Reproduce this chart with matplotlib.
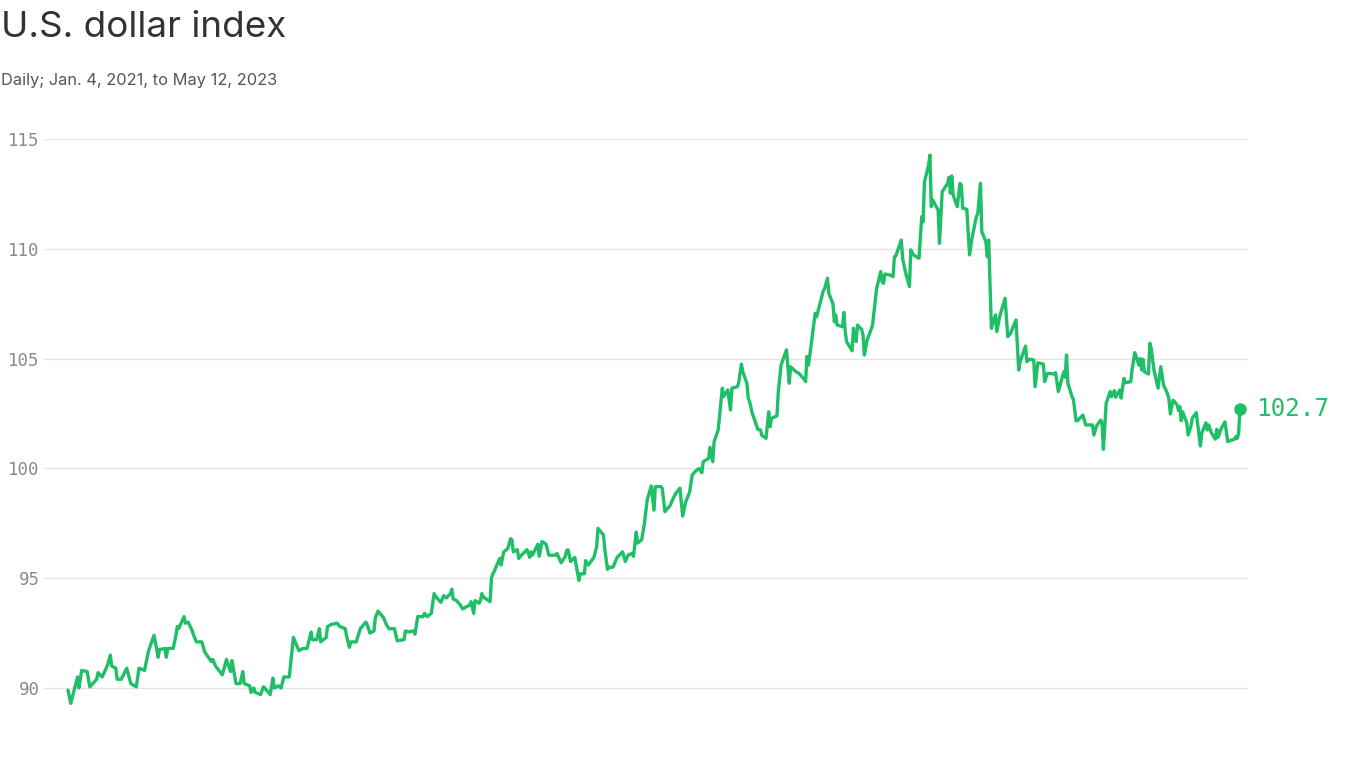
import pandas as pd
import matplotlib
matplotlib.use("Agg")
import matplotlib.pyplot as plt
import matplotlib.dates as mdates

# dollar index (month-day within each year)
days_2021 = ["01-04", "01-06", "01-11", "01-12", "01-14", "01-18", "01-20", "01-25", "01-26", "01-29",
             "02-02", "02-04", "02-05", "02-08", "02-09", "02-12", "02-16", "02-19", "02-23", "02-25",
             "03-01", "03-04", "03-08", "03-11", "03-12", "03-16", "03-17", "03-18", "03-22", "03-24", "03-25", "03-26", "03-30", "03-31",
             "04-02", "04-05", "04-06", "04-08", "04-12", "04-14", "04-19", "04-20", "04-22", "04-27", "04-30",
             "05-03", "05-04", "05-07", "05-10", "05-12", "05-13", "05-17", "05-18", "05-20", "05-21", "05-25", "05-27", "05-28",
             "06-01", "06-03", "06-04", "06-07", "06-09", "06-11", "06-15", "06-18", "06-22", "06-25", "06-28",
             "07-01", "07-02", "07-05", "07-07", "07-08", "07-12", "07-13", "07-16", "07-20", "07-22", "07-26", "07-27", "07-29", "07-30",
             "08-03", "08-06", "08-10", "08-11", "08-13", "08-16", "08-17", "08-19", "08-23", "08-25", "08-27", "08-31",
             "09-02", "09-07", "09-08", "09-10", "09-14", "09-15", "09-17", "09-21", "09-22", "09-24", "09-27", "09-29",
             "10-01", "10-04", "10-06", "10-08", "10-11", "10-12", "10-13", "10-15", "10-18", "10-20", "10-22", "10-25", "10-26", "10-28", "10-29",
             "11-01", "11-02", "11-03", "11-04", "11-05", "11-09", "11-10", "11-11", "11-12", "11-16", "11-17", "11-19", "11-22", "11-24", "11-25", "11-26", "11-29", "11-30",
             "12-02", "12-06", "12-08", "12-09", "12-10", "12-14", "12-15", "12-17", "12-20", "12-22", "12-27", "12-28", "12-31"]
dxy_2021 = [89.9, 89.3, 90.5, 90.0, 90.8, 90.75, 90.05, 90.4, 90.7, 90.5,
            91.05, 91.5, 91.0, 90.9, 90.4, 90.4, 90.9, 90.2, 90.05, 90.9,
            90.8, 91.7, 92.4, 91.4, 91.75, 91.8, 91.4, 91.8, 91.8, 92.4, 92.8, 92.7, 93.25, 92.95,
            93.0, 92.6, 92.4, 92.1, 92.1, 91.65, 91.2, 91.3, 91.0, 90.6, 91.3,
            90.75, 91.25, 90.2, 90.2, 90.75, 90.2, 90.1, 89.8, 90.0, 89.8, 89.7, 90.05, 90.0,
            89.7, 90.45, 90.0, 90.1, 90.0, 90.5, 90.5, 92.3, 91.7, 91.8, 91.8,
            92.55, 92.2, 92.2, 92.7, 92.1, 92.3, 92.8, 92.9, 92.95, 92.8, 92.7, 92.35, 91.85, 92.1,
            92.1, 92.7, 93.0, 92.9, 92.5, 92.6, 93.2, 93.5, 93.2, 92.9, 92.7, 92.7,
            92.15, 92.2, 92.6, 92.55, 92.6, 92.45, 93.25, 93.25, 93.4, 93.25, 93.4, 94.3,
            94.1, 93.9, 94.2, 94.1, 94.3, 94.5, 94.05, 94.0, 93.8, 93.6, 93.67, 93.78, 93.93, 93.4, 93.98,
            93.86, 94.0, 94.3, 94.16, 94.1, 93.93, 95.0, 95.2, 95.3, 95.9, 95.6, 96.2, 96.35, 96.8, 96.75, 96.2, 96.3, 95.9,
            96.05, 96.3, 95.95, 96.2, 96.05, 96.55, 96.0, 96.67, 96.55, 96.05, 96.05, 96.13, 95.7]

days_2022 = ["01-03", "01-04", "01-05", "01-07", "01-10", "01-13", "01-14", "01-17", "01-18", "01-20", "01-24", "01-26", "01-27", "01-31",
             "02-01", "02-03", "02-04", "02-07", "02-10", "02-14", "02-16", "02-18", "02-21", "02-22", "02-24", "02-25", "02-28",
             "03-02", "03-04", "03-07", "03-09", "03-10", "03-14", "03-15", "03-17", "03-21", "03-22", "03-25", "03-28", "03-30",
             "04-01", "04-04", "04-06", "04-08", "04-11", "04-13", "04-14", "04-18", "04-19", "04-21", "04-22", "04-25", "04-28", "04-29",
             "05-02", "05-04", "05-05", "05-09", "05-10", "05-12", "05-13", "05-16", "05-17", "05-18", "05-20", "05-24", "05-26", "05-27", "05-30",
             "06-01", "06-02", "06-03", "06-07", "06-08", "06-10", "06-14", "06-16", "06-17", "06-21", "06-23", "06-27", "06-28", "06-29", "06-30",
             "07-01", "07-05", "07-06", "07-07", "07-11", "07-12", "07-14", "07-15", "07-18", "07-19", "07-20", "07-21", "07-25", "07-26", "07-27", "07-28",
             "08-01", "08-02", "08-04", "08-05", "08-08", "08-09", "08-10", "08-12", "08-15", "08-16", "08-19", "08-22", "08-23", "08-24", "08-25", "08-29", "08-31",
             "09-01", "09-02", "09-06", "09-07", "09-09", "09-12", "09-13", "09-15", "09-19", "09-21", "09-22", "09-23", "09-26", "09-27", "09-28", "09-29",
             "10-03", "10-04", "10-06", "10-10", "10-11", "10-12", "10-13", "10-14", "10-17", "10-19", "10-20", "10-21", "10-24", "10-26", "10-28", "10-31",
             "11-01", "11-03", "11-04", "11-07", "11-08", "11-09", "11-11", "11-14", "11-15", "11-17", "11-21", "11-23", "11-25", "11-29",
             "12-01", "12-02", "12-06", "12-07", "12-09", "12-12", "12-13", "12-15", "12-19", "12-20", "12-22", "12-27", "12-28", "12-30"]
dxy_2022 = [95.98, 96.25, 96.3, 95.76, 95.95, 94.9, 95.2, 95.2, 95.8, 95.6, 95.95, 96.43, 97.27, 96.97,
            96.3, 95.4, 95.5, 95.5, 95.95, 96.2, 95.76, 96.05, 96.13, 96.0, 97.1, 96.6, 96.75,
            97.5, 98.56, 99.2, 98.1, 99.17, 99.17, 99.1, 98.03, 98.33, 98.5, 98.87, 99.1, 97.83,
            98.44, 98.9, 99.7, 99.85, 100.0, 99.8, 100.3, 100.46, 100.96, 100.3, 101.22, 101.75, 103.65, 103.27,
            103.57, 102.66, 103.65, 103.72, 103.9, 104.75, 104.4, 103.88, 103.2, 103.04, 102.5, 101.78, 101.75, 101.5, 101.37,
            102.58, 101.9, 102.28, 102.39, 103.5, 104.7, 105.4, 103.88, 104.63, 104.4, 104.33, 104.06, 103.95, 105.1, 104.7,
            105.12, 107.06, 106.9, 107.14, 108.1, 108.2, 108.66, 107.97, 107.5, 106.68, 106.99, 106.53, 106.45, 107.1, 106.23, 105.77,
            105.36, 106.38, 105.77, 106.53, 106.33, 106.08, 105.16, 105.85, 106.33, 106.53, 108.2, 108.96, 108.5, 108.43, 108.85, 108.8, 108.73,
            109.64, 109.67, 110.4, 109.57, 108.96, 108.28, 109.95, 109.72, 109.57, 111.46, 111.23, 113.05, 113.8, 114.27, 111.92, 112.22,
            111.77, 110.25, 112.6, 112.98, 113.26, 112.53, 113.32, 112.45, 111.92, 112.98, 112.9, 111.85, 111.8, 109.72, 110.55, 111.46,
            111.6, 112.98, 110.78, 110.32, 109.64, 110.4, 106.38, 106.99, 106.23, 106.9, 107.75, 106.0, 106.15, 106.76,
            104.48, 104.86, 105.57, 104.86, 104.97, 104.94, 103.72, 104.81, 104.75, 103.95, 104.33, 104.3, 104.36, 103.5]

days_2023 = ["01-03", "01-04", "01-05", "01-06", "01-09", "01-10", "01-12", "01-13", "01-17", "01-19", "01-23", "01-24", "01-25", "01-27", "01-30", "01-31",
             "02-01", "02-03", "02-06", "02-07", "02-09", "02-10", "02-13", "02-14", "02-16", "02-17", "02-21", "02-22", "02-24", "02-27", "02-28",
             "03-01", "03-02", "03-03", "03-06", "03-07", "03-08", "03-10", "03-13", "03-15", "03-17", "03-20", "03-21", "03-22", "03-24", "03-27", "03-28", "03-29", "03-30", "03-31",
             "04-03", "04-04", "04-06", "04-07", "04-10", "04-13", "04-14", "04-17", "04-18", "04-19", "04-21", "04-24", "04-25", "04-26", "04-28",
             "05-01", "05-03", "05-05", "05-08", "05-09", "05-10", "05-11", "05-12"]
dxy_2023 = [104.4, 104.15, 105.16, 103.88, 103.27, 103.15, 102.17, 102.17, 102.43, 101.98, 101.98, 101.98, 101.52, 101.93, 102.2, 102.05,
            100.87, 102.96, 103.5, 103.27, 103.54, 103.24, 103.57, 103.2, 104.1, 103.9, 103.95, 104.51, 105.27, 104.71, 105.0,
            104.48, 104.97, 104.4, 104.3, 105.7, 105.47, 104.48, 103.65, 104.63, 103.8, 103.39, 103.15, 102.48, 103.11, 102.89, 102.63, 102.81, 102.17, 102.58,
            102.08, 101.52, 101.9, 102.28, 102.54, 101.02, 101.6, 102.08, 101.75, 101.98, 101.63, 101.33, 101.78, 101.42, 101.78,
            102.12, 101.22, 101.27, 101.33, 101.45, 101.37, 101.6, 102.7]

y_ticks = [90, 95, 100, 105, 110, 115]

dates = pd.to_datetime(["2021-" + d for d in days_2021] +
                       ["2022-" + d for d in days_2022] +
                       ["2023-" + d for d in days_2023])
values = dxy_2021 + dxy_2022 + dxy_2023

green = "#1fbf67"
W, H = 1366, 768

fig = plt.figure(figsize=(W / 100, H / 100), dpi=100)
# axes placed in pixels: gridlines run x 44..1248, 115 sits at y=139, 90 at y=688
px_per_unit = (688 - 139) / 25
ax = fig.add_axes([44 / W, (H - 720) / H, (1248 - 44) / W, (720 - 139) / H])

ax.plot(dates, values, color=green, lw=2.4, solid_joinstyle="round", solid_capstyle="round")
ax.plot(dates[-1], values[-1], "o", ms=8, color=green, clip_on=False)
ax.annotate(f"{values[-1]:.1f}", xy=(dates[-1], values[-1]), xytext=(16, 0),
            textcoords="offset pixels", va="center", ha="left", fontsize=17.5,
            family="DejaVu Sans Mono", color=green, annotation_clip=False)

px_per_day = (1240 - 68) / (dates[-1] - dates[0]).days
x0 = mdates.date2num(dates[0]) - (68 - 44) / px_per_day
x1 = mdates.date2num(dates[-1]) + (1248 - 1240) / px_per_day
ax.set_xlim(x0, x1)
ax.set_ylim(115 - (720 - 139) / px_per_unit, 115)

ax.set_yticks(y_ticks)
ax.set_yticklabels([str(t) for t in y_ticks], family="DejaVu Sans Mono", fontsize=12.5, color="#8a8a8a")
ax.tick_params(axis="y", length=0, pad=3)
ax.set_xticks([])
ax.yaxis.grid(True, color="#e3e3e3", lw=1)
ax.set_axisbelow(True)
for s in ax.spines.values():
    s.set_visible(False)

fig.text(1 / W, 1 - 37 / H, "U.S. dollar index", fontsize=26.5, family="Inter",
         color="#333333", va="baseline", ha="left")
fig.text(1 / W, 1 - 85 / H, "Daily; Jan. 4, 2021, to May 12, 2023", fontsize=11.8,
         family="Inter", color="#555555", va="baseline", ha="left")

fig.savefig("out.png", dpi=100)
